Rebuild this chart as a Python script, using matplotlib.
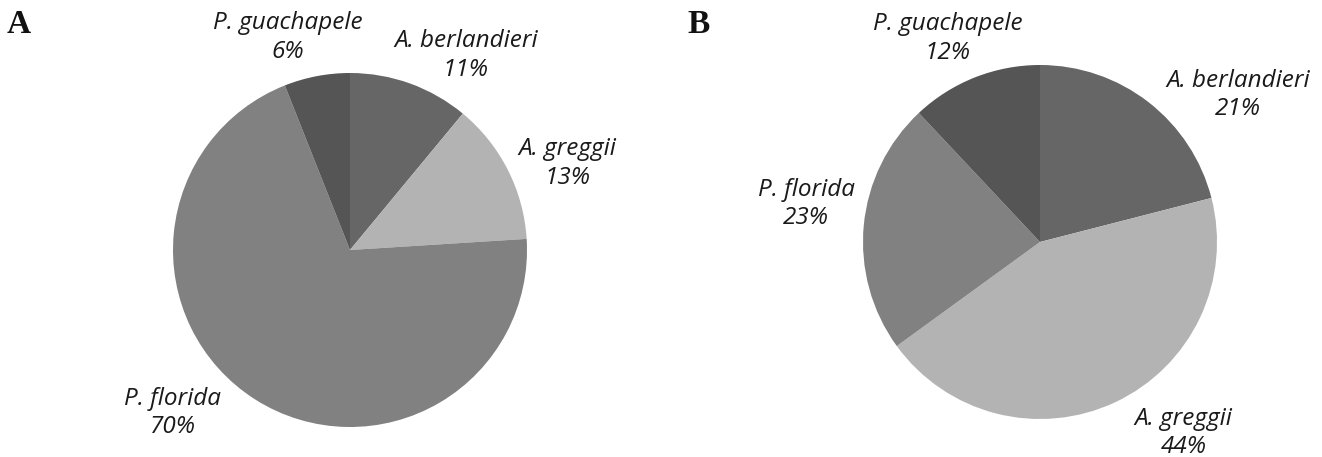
import matplotlib.pyplot as plt

W_PX, H_PX = 1322, 457
DPI = 100

species = ["A. berlandieri", "A. greggii", "P. florida", "P. guachapele"]
share_a = [11, 13, 70, 6]
share_b = [21, 44, 23, 12]
colors = ["#666666", "#b3b3b3", "#818181", "#555555"]

# label offsets in pie-radius units (placement only)
label_pos_a = [(0.655, 1.10), (1.23, 0.49), (-1.0, -0.92), (-0.35, 1.20)]
label_pos_b = [(1.12, 0.83), (0.81, -1.08), (-1.32, 0.215), (-0.52, 1.15)]

RADIUS_PX = 177


def draw_panel(fig, left_px, width_px, center_px, values, label_pos, letter, letter_px):
    ax = fig.add_axes([left_px / W_PX, 0, width_px / W_PX, 1])
    ax.pie(values, colors=colors, startangle=90, counterclock=False,
           radius=1.0, wedgeprops=dict(linewidth=0))
    cx, cy = center_px
    ax.set_xlim((left_px - cx) / RADIUS_PX, (left_px + width_px - cx) / RADIUS_PX)
    ax.set_ylim(-(H_PX - cy) / RADIUS_PX, cy / RADIUS_PX)
    ax.set_aspect("auto")
    ax.set_axis_off()

    for name, val, (x, y) in zip(species, values, label_pos):
        ax.text(x, y, f"{name}\n{val}%", ha="center", va="center",
                fontsize=17.5, fontstyle="italic", family="Open Sans",
                color="#1a1a1a", linespacing=1.25)

    fig.text(letter_px[0] / W_PX, 1 - letter_px[1] / H_PX, letter,
             family="Liberation Serif", fontweight="bold", fontsize=24,
             ha="left", va="top", color="#111111")


fig = plt.figure(figsize=(W_PX / DPI, H_PX / DPI), dpi=DPI)
draw_panel(fig, 0, 661, (350, 250), share_a, label_pos_a, "A", (7, 9))
draw_panel(fig, 661, 661, (1040, 242), share_b, label_pos_b, "B", (687, 9))
fig.savefig("out.png", dpi=DPI)
